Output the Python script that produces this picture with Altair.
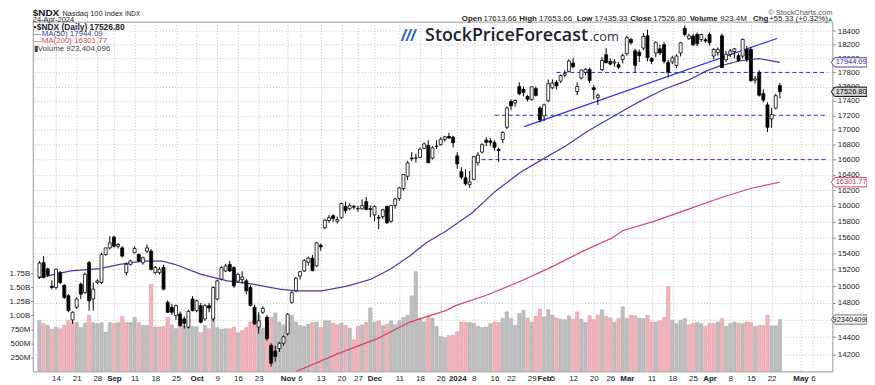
import altair as alt
import pandas as pd

# trading-day index (0 = Mon 14-Aug-2023, 175 = Wed 24-Apr-2024)
day = list(range(-4, 176))
opens = [15110,15285,15210,15000,14985,15164,15010,14886,14600,14749,15024,14925,15285,14847,15044,
         15044,15386,15467,15600,15488,15467,15164,15265,15407,15386,15285,15427,15427,15164,15164,
         15225,14807,14749,14651,14670,14612,14516,14847,14709,14768,14612,14768,14612,14847,15084,
         15184,15265,15225,15060,15080,15064,14984,14749,14516,14690,14632,14306,14240,14269,14330,
         14439,14807,14945,15123,15184,15290,15340,15245,15500,15720,15810,15870,15800,15845,15990,
         15960,15990,15960,15960,16050,15960,15880,15850,15860,15990,15800,16000,16090,16220,16380,
         16620,16620,16630,16750,16790,16620,16780,16800,16870,16910,16900,16650,16440,16360,16270,
         16340,16560,16700,16860,16850,16830,16735,16870,17035,17390,17370,17600,17560,17460,17420,
         17570,17300,17190,17400,17583,17660,17676,17760,17815,17935,17530,17720,17800,17840,17583,
         17445,17840,18054,17958,17935,17910,17985,18070,18276,18110,18090,18150,18330,18000,18080,
         18140,18200,17941,17950,17900,18080,18440,18290,18325,18350,18276,18270,18350,18036,18084,
         18330,17980,18060,18100,18040,18036,18131,18131,17690,17800,17500,17343,17150,17298,17613.66]
highs = [15305,15366,15225,15070,15215,15184,15024,14905,14700,14866,15044,15164,15306,15044,15084,
         15407,15467,15612,15620,15530,15488,15285,15320,15488,15400,15360,15508,15450,15245,15230,
         15260,14830,14790,14780,14700,14640,14720,14880,14840,14800,14790,14800,15000,15080,15240,
         15270,15306,15240,15160,15180,15090,15010,14780,14690,14760,14660,14330,14300,14345,14420,
         14680,14940,15110,15180,15330,15360,15380,15540,15520,15830,15880,15890,15860,16040,16050,
         16030,16010,16000,16080,16110,16000,16000,15880,15960,16000,16010,16100,16240,16410,16580,
         16700,16680,16760,16830,16860,16780,16860,16900,16920,16960,16920,16700,16500,16470,16450,
         16650,16700,16820,16900,16890,16860,16760,16980,17320,17420,17420,17660,17600,17480,17600,
         17600,17330,17360,17700,17700,17690,17770,17830,17990,18010,17660,17840,17860,17870,17620,
         17500,18020,18150,18000,17990,17950,18070,18330,18300,18140,18130,18370,18420,18020,18250,
         18200,18240,17980,18040,18060,18240,18480,18360,18360,18380,18360,18300,18380,18150,18160,
         18360,18110,18140,18150,18070,18290,18180,18160,17750,17830,17560,17380,17300,17500,17653.66]
lows = [15090,15095,15110,14960,14960,15024,14847,14690,14555,14729,14847,14905,14709,14709,15024,
        15024,15370,15447,15470,15460,15350,15130,15250,15400,15290,15260,15400,15190,15140,15140,
        14950,14680,14660,14600,14520,14500,14500,14700,14690,14560,14590,14690,14580,14830,15070,
        15170,15170,14980,15040,15030,14900,14760,14540,14440,14670,14360,14065,14120,14230,14300,
        14420,14790,14930,15080,15170,15250,15180,15230,15430,15700,15780,15790,15770,15830,15900,
        15940,15950,15920,15950,15940,15850,15800,15700,15830,15770,15780,15960,16060,16190,16330,
        16580,16560,16620,16740,16550,16600,16740,16790,16840,16880,16760,16480,16340,16260,16230,
        16330,16520,16680,16780,16780,16720,16570,16820,17010,17270,17320,17480,17460,17390,17400,
        17460,17100,17120,17380,17560,17560,17650,17730,17800,17860,17480,17700,17760,17650,17420,
        17340,17820,17950,17900,17880,17850,17930,18040,18200,17800,17950,18120,17960,17920,18020,
        18050,17930,17730,17920,17860,18030,18320,18270,18180,18180,18240,18230,18190,17990,18040,
        17860,17950,18020,18000,17950,18000,17950,17670,17640,17460,17380,16970,17030,17280,17435.33]
closes = [15280,15104,15135,14985,15204,15044,14866,14709,14690,14847,14905,15143,14827,14964,15064,
          15386,15467,15529,15488,15508,15366,15265,15306,15460,15306,15345,15467,15204,15225,15204,
          14964,14690,14690,14768,14536,14560,14700,14709,14827,14574,14768,14740,14984,15064,15225,
          15245,15184,15004,15142,15110,14945,14768,14555,14590,14735,14383,14102,14180,14330,14405,
          14666,14921,15095,15175,15310,15340,15188,15530,15480,15812,15845,15835,15822,16027,15935,
          15998,15980,15961,16000,15950,15950,15990,15840,15945,15780,16000,16085,16228,16404,16556,
          16610,16623,16740,16810,16560,16757,16778,16874,16906,16890,16826,16543,16368,16282,16305,
          16640,16660,16800,16832,16832,16760,16720,16965,17300,17330,17405,17500,17518,17421,17596,
          17476,17137,17344,17642,17648,17610,17756,17783,17963,17882,17601,17834,17845,17686,17556,
          17478,17971,17937,17920,17950,17874,18044,18302,18228,17900,18040,18320,18010,17960,18230,
          18080,17960,17800,18010,18036,18228,18350,18330,18200,18215,18350,18255,18230,18131,18131,
          17870,18060,18110,18140,17970,18276,17988,17683,17707,17478,17410,17035,17210,17471,17526.80]
volume_m = [905,850,820,750,790,760,820,905,870,870,780,860,1000,870,850,
            870,700,870,850,870,980,870,870,960,870,820,820,1550,790,790,
            800,960,830,760,905,820,790,800,795,690,815,760,970,780,750,
            760,760,790,690,730,780,880,880,1000,770,860,960,1040,880,830,
            930,1000,880,820,800,840,870,880,780,900,900,860,830,860,820,
            770,560,800,830,870,1130,880,900,820,840,900,830,900,960,1000,
            1346,1776,950,880,1000,950,800,620,600,640,640,700,880,870,870,
            860,800,780,790,850,880,870,940,1060,940,820,1030,1090,950,880,
            980,1110,970,1100,1000,950,930,920,990,930,1060,930,870,990,920,
            1000,1100,980,950,880,940,1150,940,1000,990,950,940,1000,880,880,
            900,960,1512,910,850,910,940,830,850,870,850,800,850,850,880,
            940,800,850,880,860,850,880,870,800,820,820,1000,810,810,923.4]

ma50_day = [-4.4,-3.95,3.55,10.6,15.4,20.9,25.6,28.7,35.1,41.4,47.6,54.0,58.0,64.3,70.6,76.1,80.8,85.5,
            89.5,94.2,100.5,106.1,112.4,117.9,123.4,128.1,132.9,139.2,141.5,147.1,152.6,157.3,160.5,
            165.2,169.9,175]
ma50_val = [15100,15104,15184,15213,15265,15305,15305,15265,15143,15064,15024,14964,14944,14944,15003,
            15084,15204,15366,15530,15674,15903,16179,16437,16613,16788,16967,17125,17331,17403,17566,
            17683,17822,17894,17964,17999,17944.09]
ma200_day = [58.0,68.2,77.7,85.5,94.2,96.6,103.7,111.6,119.5,127.4,134.4,137.0,144.7,152.6,160.5,168.3,175]
ma200_val = [14008,14212,14383,14575,14709,14768,14885,15045,15225,15427,15590,15681,15802,15949,16098,
             16227,16301.77]
trend_day = [113.2, 174.3]
trend_val = [17044, 18291]
level_val = [17800, 17200, 16600]
level_from = [121.0, 106.1, 102.9]

tick_days = [0,5,10,14,19,24,29,34,39,44,49,56,59,64,69,73,77,83,88,93,97,101,106,110,115,118,120,
             125,130,134,138,144,149,154,158,163,168,173,180,183]
tick_labels = ['14','21','28','Sep','11','18','25','Oct','9','16','23','Nov','6','13','20','27','Dec',
               '11','18','26','2024','8','16','22','29','Feb','5','12','20','26','Mar','11','18','25',
               'Apr','8','15','22','May','6']
bold_ticks = [14,34,56,77,97,118,138,158,180]
price_ticks = list(range(14200, 18401, 200))
vol_ticks = [250,500,750,1000,1250,1500,1750]

FONT = "Liberation Sans"
X_DOM = [-4.42, 186.48]
P_DOM = [14011, 18539]
V_DOM = [0, 6230]

df = pd.DataFrame({"day": day, "open": opens, "high": highs, "low": lows, "close": closes, "vol": volume_m})
df["blo"] = df[["open", "close"]].min(axis=1)
df["bhi"] = df[["open", "close"]].max(axis=1)
df["up"] = df["close"] >= df["open"]
prev = df["close"].shift(1).fillna(df["open"])
df["vdown"] = df["close"] < prev

labexpr = "[" + ",".join("'%s'" % t for t in tick_labels) + "][indexof([" + ",".join(map(str, tick_days)) + "], datum.value)]"
boldtest = "indexof([" + ",".join(map(str, bold_ticks)) + "], datum.value) >= 0"

x_axis = alt.Axis(values=tick_days, labelExpr=labexpr, grid=True, gridDash=[1, 2], gridColor="#c4c4c4",
                  domain=False, ticks=False, labelPadding=3, labelFontSize=8, labelFont=FONT,
                  labelColor="#222", labelOverlap=False, title=None,
                  labelFontWeight={"condition": {"test": boldtest, "value": "bold"}, "value": "normal"})
X = alt.X("day:Q", scale=alt.Scale(domain=X_DOM, nice=False, zero=False), axis=x_axis)

p_scale = alt.Scale(type="log", domain=P_DOM, nice=False, zero=False)
p_axis = alt.Axis(orient="right", values=price_ticks, format="d", grid=True, gridDash=[1, 2],
                  gridColor="#c4c4c4", domain=False, tickSize=3, tickColor="#888", labelPadding=2,
                  labelFontSize=8, labelFont=FONT, labelColor="#222", title=None, labelOverlap=False)

def PY(field):
    return alt.Y(field + ":Q", scale=p_scale, axis=p_axis)

v_scale = alt.Scale(domain=V_DOM, nice=False, zero=True)
v_axis = alt.Axis(orient="left", values=vol_ticks, grid=False, domain=False, tickSize=2, tickColor="#888",
                  labelPadding=1, labelFontSize=8, labelFont=FONT, labelColor="#222", title=None,
                  labelExpr="datum.value >= 1000 ? format(datum.value/1000, '.2f') + 'B' : datum.value + 'M'")

base = alt.Chart(df)

vol_bars = base.mark_bar(width=3.4, strokeWidth=0.5).encode(
    x=X,
    y=alt.Y("vol:Q", scale=v_scale, axis=v_axis),
    fill=alt.condition("datum.vdown", alt.value("#f0b3bb"), alt.value("#bdbdbd")),
    stroke=alt.condition("datum.vdown", alt.value("#e0909c"), alt.value("#a8a8a8")),
)
tag_shape = "M -1 0 L -0.82 -0.26 L 1 -0.26 L 1 0.26 L -0.82 0.26 Z"
vol_tag_df = pd.DataFrame({"vol": [volume_m[-1]], "t": ["923404096"]})
vol_tag = alt.Chart(vol_tag_df).mark_point(
    shape=tag_shape, size=1296, filled=True,
    fill="#f4f4f4", stroke="#777", strokeWidth=1, opacity=1).encode(
    x=alt.value(824), y=alt.Y("vol:Q", scale=v_scale, axis=v_axis))
vol_tag_txt = alt.Chart(vol_tag_df).mark_text(fontSize=7.5, font=FONT, color="#222", dx=2).encode(
    x=alt.value(824), y=alt.Y("vol:Q", scale=v_scale, axis=v_axis), text="t:N")
vol_layer = alt.layer(vol_bars, vol_tag, vol_tag_txt)

ma50_df = pd.DataFrame({"day": ma50_day, "v": ma50_val})
ma200_df = pd.DataFrame({"day": ma200_day, "v": ma200_val})
trend_df = pd.DataFrame({"day": trend_day, "v": trend_val})
lev_df = pd.DataFrame({"day": level_from, "day2": [X_DOM[1]] * 3, "v": level_val})

ma200_line = alt.Chart(ma200_df).mark_line(color="#d8455e", strokeWidth=1.2, clip=True).encode(x=X, y=PY("v"))
ma50_line = alt.Chart(ma50_df).mark_line(color="#3f3fa8", strokeWidth=1.2, clip=True).encode(x=X, y=PY("v"))
trend_line = alt.Chart(trend_df).mark_line(color="#3030ee", strokeWidth=1.2).encode(x=X, y=PY("v"))
lev_lines = alt.Chart(lev_df).mark_rule(color="#2b2bdd", strokeWidth=1, strokeDash=[4, 3]).encode(
    x=X, x2="day2:Q", y=PY("v"))
wicks = base.mark_rule(color="#000", strokeWidth=1).encode(x=X, y=PY("low"), y2="high:Q")
bodies = base.mark_bar(width=3, stroke="#000", strokeWidth=0.8).encode(
    x=X, y=PY("blo"), y2="bhi:Q",
    fill=alt.condition("datum.up", alt.value("#ffffff"), alt.value("#000000")))

tag_df = pd.DataFrame({"v": [17944.09, 17526.80, 16301.77], "t": ["17944.09", "17526.80", "16301.77"],
                       "k": ["ma50", "close", "ma200"]})
tags = alt.Chart(tag_df).mark_point(shape=tag_shape, size=1296, filled=True, strokeWidth=1, opacity=1).encode(
    x=alt.value(824), y=PY("v"),
    fill=alt.Fill("k:N", scale=alt.Scale(domain=["ma50", "close", "ma200"], range=["#ffffff", "#d8d8d8", "#ffffff"]), legend=None),
    stroke=alt.Stroke("k:N", scale=alt.Scale(domain=["ma50", "close", "ma200"], range=["#3f3fa8", "#000000", "#d8455e"]), legend=None),
)
tag_txt = alt.Chart(tag_df).mark_text(fontSize=7.5, font=FONT, dx=2).encode(
    x=alt.value(824), y=PY("v"), text="t:N",
    color=alt.Color("k:N", scale=alt.Scale(domain=["ma50", "close", "ma200"], range=["#2a2a90", "#000000", "#c0304a"]), legend=None),
)

price_layer = alt.layer(ma200_line, ma50_line, lev_lines, trend_line, wicks, bodies, tags, tag_txt)

def txt(t, x, y, size=8, weight="normal", color="#222", align="left", font=FONT, baseline="alphabetic", italic=False):
    return alt.Chart(pd.DataFrame({"t": [t]})).mark_text(
        text=t, fontSize=size, fontWeight=weight, color=color, align=align, font=font, baseline=baseline,
        fontStyle="italic" if italic else "normal"
    ).encode(x=alt.value(x), y=alt.value(y))

notes = [
    txt("$NDX", 0, -5.2, size=10, weight="bold", color="#111"),
    txt("Nasdaq 100 Index", 30, -5.2, size=7.5, color="#222"),
    txt("INDX", 93, -5.2, size=6.5, color="#222"),
    txt("24-Apr-2024", 0, 0.8, size=7.5, color="#222"),
    txt("\u00a9 StockCharts.com", 807, -7, size=7.5, color="#555", align="right"),
    txt("Open", 433, -0.5, size=8, weight="bold"),
    txt("17613.66", 455, -0.5, size=8),
    txt("High", 491, -0.5, size=8, weight="bold"),
    txt("17653.66", 511, -0.5, size=8),
    txt("Low", 549, -0.5, size=8, weight="bold"),
    txt("17435.33", 567, -0.5, size=8),
    txt("Close", 603, -0.5, size=8, weight="bold"),
    txt("17526.80", 626, -0.5, size=8),
    txt("Volume", 663, -0.5, size=8, weight="bold"),
    txt("923.4M", 694, -0.5, size=8),
    txt("Chg", 727, -0.5, size=8, weight="bold"),
    txt("+55.33 (+0.32%)", 743, -0.5, size=8, color="#222"),
    txt("\u25b2", 802, -0.5, size=6, color="#2a9a3a"),
    txt("\u25aa$NDX (Daily) 17526.80", 1, 5, size=8.5, weight="bold", color="#222", baseline="middle"),
    txt("\u2014MA(50) 17944.09", 1, 12.5, size=8, color="#3f3fa8", baseline="middle"),
    txt("\u2014MA(200) 16301.77", 1, 20, size=8, color="#d8455e", baseline="middle"),
    txt("\u25aeVolume 923,404,096", 1, 27.5, size=8, color="#444", baseline="middle"),
    txt("///", 372, 20, size=17, weight="bold", color="#1f5fbf", italic=True),
    txt("StockPriceForecast", 396, 20, size=18, weight=600, color="#1e2230", font="Open Sans"),
    txt(".com", 562, 20, size=13, color="#2a2e3c", font="Open Sans"),
]

chart = alt.layer(vol_layer, price_layer, *notes).resolve_scale(y="independent").properties(
    width=807, height=353,
    autosize=alt.AutoSizeParams(type="none"),
    padding={"left": 25, "top": 12, "right": 35, "bottom": 12},
).configure_view(stroke="#999", strokeWidth=1)

chart.save("out.html", embed_options={"renderer": "svg", "actions": False})
